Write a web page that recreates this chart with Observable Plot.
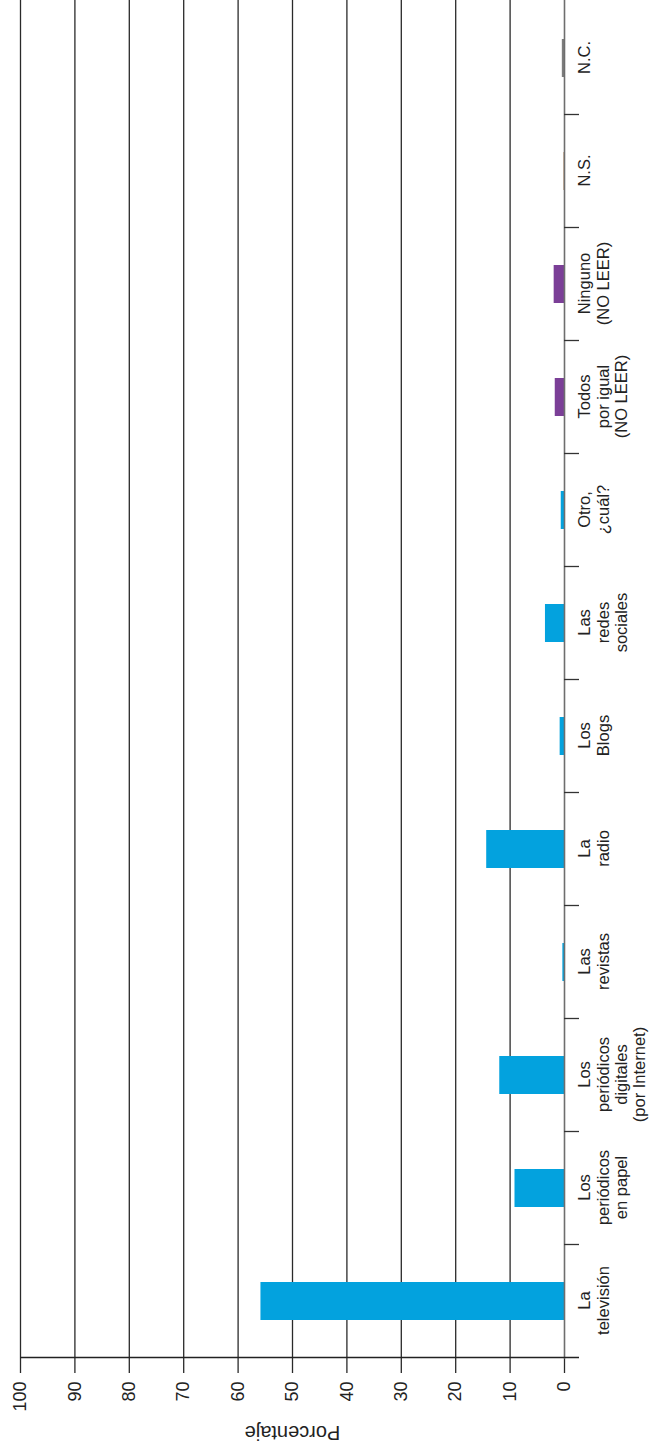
<!DOCTYPE html>
<html>
<head>
<meta charset="utf-8">
<script src="https://cdn.jsdelivr.net/npm/d3@7"></script>
<script src="https://cdn.jsdelivr.net/npm/@observablehq/plot@0.6"></script>
<style>
  html, body { margin: 0; padding: 0; background: #fff; overflow: hidden; }
  #wrap { position: relative; width: 654px; height: 1449px; overflow: hidden; }
  #wrap svg {
    position: absolute; left: 0; top: 0;
    max-width: none !important; width: 1449px !important; height: 654px !important;
    transform-origin: 0 0; transform: translate(0px, 1449px) rotate(-90deg);
  }
</style>
</head>
<body>
<div id="wrap"></div>
<script>
// Data
const categories = [
  "La\ntelevisión",
  "Los\nperiódicos\nen papel",
  "Los\nperiódicos\ndigitales\n(por Internet)",
  "Las\nrevistas",
  "La\nradio",
  "Los\nBlogs",
  "Las\nredes\nsociales",
  "Otro,\n¿cuál?",
  "Todos\npor igual\n(NO LEER)",
  "Ninguno\n(NO LEER)",
  "N.S.",
  "N.C."
];
const values = [55.8, 9.1, 11.9, 0.3, 14.3, 0.8, 3.5, 0.6, 1.7, 1.9, 0.1, 0.4];
const groups = ["medio", "medio", "medio", "medio", "medio", "medio", "medio", "medio", "ninguno", "ninguno", "ns", "nc"];
const valueTicks = [0, 10, 20, 30, 40, 50, 60, 70, 80, 90, 100];
const gridTicks = [10, 20, 30, 40, 50, 60, 70, 80, 90, 100];
const axisTitle = "Porcentaje";

const rows = categories.map((c, i) => ({cat: c, value: values[i], group: groups[i]}));

const W = 1449, H = 654;
const ML = 90, MB = 90, MT = 20, MR = 0;
const catTick = 15;

// band edge ticks drawn from the x scale
function bandEdges(index, scales, vals, dims) {
  const x = scales.x, y = scales.y;
  const bw = typeof x.bandwidth === "function" ? x.bandwidth() : 0;
  const step = typeof x.step === "function" ? x.step() : (dims.width - dims.marginLeft - dims.marginRight) / categories.length;
  const edges = categories.map(c => x(c) + bw / 2 - step / 2);
  const g = d3.create("svg:g");
  const y0 = y(0), yTop = y(100);
  edges.forEach((e, k) => {
    g.append("line")
      .attr("x1", e).attr("x2", e)
      .attr("y1", k === 0 ? yTop : y0)
      .attr("y2", y0 + catTick)
      .attr("stroke", k === 0 ? "#222" : "#333")
      .attr("stroke-width", 1.3);
  });
  return g.node();
}

const chart = Plot.plot({
  width: W,
  height: H,
  marginLeft: ML,
  marginRight: MR,
  marginTop: MT,
  marginBottom: MB,
  style: {fontFamily: "'Liberation Sans', Arial, Helvetica, sans-serif", background: "#fff", color: "#222"},
  x: {domain: categories, paddingInner: 0.664, paddingOuter: 0.332, label: null},
  y: {domain: [0, 100], label: null},
  color: {domain: ["medio", "ninguno", "ns", "nc"], range: ["#03a2de", "#7b3f97", "#b38a62", "#7d7d7d"]},
  marks: [
    Plot.gridY(gridTicks, {stroke: "#2a2a2a", strokeOpacity: 1, strokeWidth: 1.3}),
    Plot.axisY(valueTicks, {tickSize: 14, tickPadding: 9, fontSize: 18, stroke: "#2a2a2a", strokeWidth: 1.3, fill: "#222", label: null}),
    Plot.barY(rows, {x: "cat", y: "value", fill: "group"}),
    Plot.ruleY([0], {stroke: "#6e6e6e", strokeWidth: 1.6}),
    bandEdges,
    Plot.axisX({tickSize: 0, tickPadding: 13, fontSize: 16.5, lineHeight: 1.1, fill: "#222", label: null}),
    Plot.text([axisTitle], {frameAnchor: "left", textAnchor: "middle", dx: -74, rotate: -90, fontSize: 20, fill: "#222"})
  ]
});

document.getElementById("wrap").appendChild(chart);
</script>
</body>
</html>
